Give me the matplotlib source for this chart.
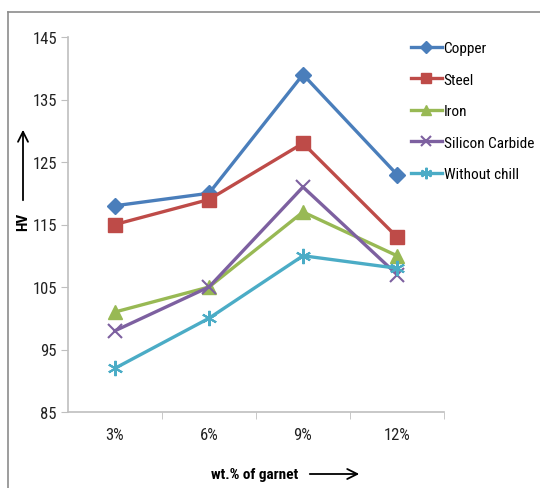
import matplotlib
matplotlib.use("Agg")
import matplotlib.pyplot as plt
from matplotlib.lines import Line2D
from matplotlib import font_manager

categories = ["3%", "6%", "9%", "12%"]
copper = [118, 120, 139, 123]
steel = [115, 119, 128, 113]
iron = [101, 105, 117, 110]
silicon_carbide = [98, 105, 121, 107]
without_chill = [92, 100, 110, 108]
y_ticks = [85, 95, 105, 115, 125, 135, 145]

names = {f.name for f in font_manager.fontManager.ttflist}
preferred = ["Liberation Sans Narrow", "Roboto Condensed", "Open Sans Condensed",
             "Noto Sans Display", "Roboto"]
base = next((n for n in preferred if n in names), "DejaVu Sans")
plt.rcParams["font.family"] = [base, "DejaVu Sans"]
narrow = base in ("Liberation Sans Narrow", "Roboto Condensed", "Open Sans Condensed")
fs = 11 if narrow else 9.5
tick_fs = 12 if narrow else 10

W, H = 540, 489
fig = plt.figure(figsize=(W / 100, H / 100), dpi=100)
fig.patch.set_facecolor("white")

def fx(px):
    return px / W

def fy(py):
    return 1 - py / H

ax = fig.add_axes([fx(68), fy(413), fx(444) - fx(68), fy(38) - fy(413)])

x = list(range(len(categories)))
series = [
    ("Copper", copper, "#4A7EBB", "D", 8.5, None),
    ("Steel", steel, "#BE4B48", "s", 10, None),
    ("Iron", iron, "#98B954", "^", 10, None),
    ("Silicon Carbide", silicon_carbide, "#7D60A0", "x", 10, 1.5),
    ("Without chill", without_chill, "#4BACC6", (6, 2, 0), 11, 1.5),
]
handles = []
for name, vals, col, mk, ms, mew in series:
    kw = dict(color=col, lw=2.4, marker=mk, markersize=ms, label=name,
              markerfacecolor=col, markeredgecolor=col)
    if mew:
        kw["markeredgewidth"] = mew
    h, = ax.plot(x, vals, **kw)
    handles.append(h)

ax.set_xlim(-0.5, len(categories) - 0.5)
ax.set_ylim(85, 145)
ax.set_yticks(y_ticks)
ax.set_xticks(x)
ax.set_xticklabels(categories)
ax.set_xticks([i + 0.5 for i in range(len(categories))], minor=True)

for s in ["top", "right"]:
    ax.spines[s].set_visible(False)
for s in ["left", "bottom"]:
    ax.spines[s].set_color("#BFBFBF")
    ax.spines[s].set_linewidth(1.2)

ax.tick_params(axis="y", direction="out", length=5, color="#BFBFBF",
               labelsize=tick_fs, pad=3, labelcolor="#222222")
ax.tick_params(axis="x", which="major", length=0, labelsize=tick_fs, pad=11,
               labelcolor="#222222")
ax.tick_params(axis="x", which="minor", direction="out", length=5,
               color="#BFBFBF")

leg = fig.legend(handles=handles, loc="upper left",
                 bbox_to_anchor=(fx(405), fy(36)), frameon=False,
                 fontsize=fs, handlelength=2.0, handletextpad=0.12,
                 labelspacing=1.35 if not narrow else 1.15, borderaxespad=0)
for lh in leg.legend_handles:
    lh.set_markersize(lh.get_markersize() * 0.75)

# axis titles with arrows
fig.text(fx(23), fy(222), "HV", rotation=90, ha="center", va="center",
         fontsize=fs, fontweight="bold")
fig.add_artist(plt.Annotation("", xy=(fx(23), fy(128)), xytext=(fx(23), fy(204)),
                              xycoords="figure fraction", textcoords="figure fraction",
                              arrowprops=dict(arrowstyle="->", lw=1.3, color="black",
                                              mutation_scale=18)))
fig.text(fx(298), fy(475), "wt.% of garnet", ha="right", va="center",
         fontsize=fs, fontweight="bold")
fig.add_artist(plt.Annotation("", xy=(fx(362), fy(475)), xytext=(fx(307), fy(475)),
                              xycoords="figure fraction", textcoords="figure fraction",
                              arrowprops=dict(arrowstyle="->", lw=1.3, color="black",
                                              mutation_scale=18)))

# outer chart frame
fig.add_artist(Line2D([fx(8), 1], [fy(13), fy(13)], color="#8C8C8C", lw=1.2))
fig.add_artist(Line2D([fx(8), fx(8)], [fy(13), 0], color="#8C8C8C", lw=1.2))

fig.savefig("out.png", dpi=100, facecolor="white")
